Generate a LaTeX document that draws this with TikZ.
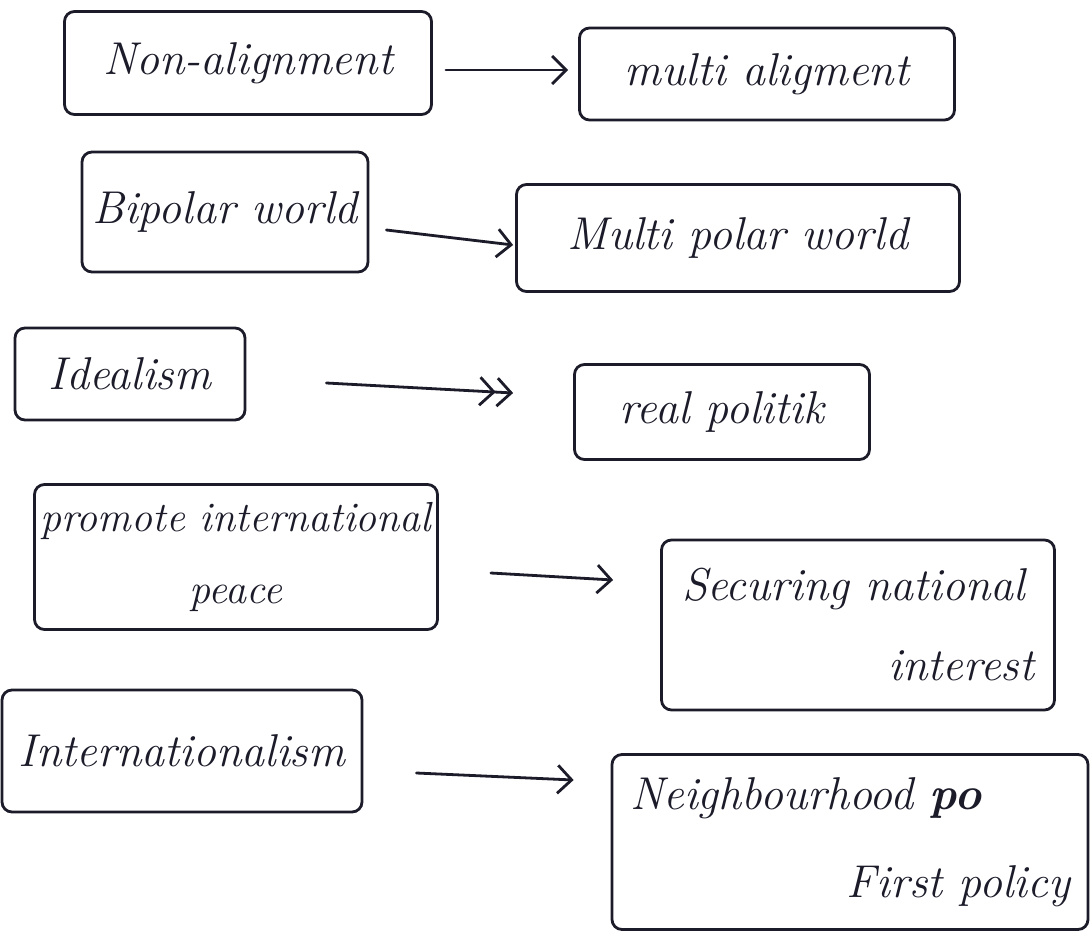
\documentclass[tikz,border=0pt]{standalone}
\usetikzlibrary{arrows.meta}
\definecolor{ink}{HTML}{1B1B2A}
\begin{document}
\begin{tikzpicture}[x=0.5pt,y=-0.5pt,
  box/.style={draw=ink, line width=1.4pt, rounded corners=5pt, inner sep=0pt,
    text=ink, font=\fontsize{23}{30}\selectfont\itshape, align=center},
  arr/.style={draw=ink, line width=1.4pt, line cap=round,
    -{Straight Barb[length=7pt,width=14pt,line width=1.4pt]}},
  darr/.style={draw=ink, line width=1.4pt, line cap=round,
    -{Straight Barb[length=7pt,width=14pt,line width=1.4pt]Straight Barb[length=7pt,width=14pt,line width=1.4pt]}}]
\useasboundingbox[fill=white] (0,0) rectangle (1090,941);

% left column: old approach
\node[box, minimum width=183.5pt, minimum height=51.5pt] (b1) at (248,63) {Non-alignment};
\node[box, minimum width=143pt, minimum height=60pt] (b3) at (225,212) {Bipolar world};
\node[box, minimum width=115pt, minimum height=46pt] (b5) at (130,374) {Idealism};
\node[box, minimum width=201.5pt, minimum height=72.5pt, font=\fontsize{21}{28}\selectfont\itshape] (b7) at (236,557) {promote international\\[8pt] peace};
\node[box, minimum width=180pt, minimum height=61pt] (b9) at (182,751) {Internationalism};

% right column: new approach
\node[box, minimum width=187.5pt, minimum height=46pt] (b2) at (767,74) {multi aligment};
\node[box, minimum width=221.5pt, minimum height=53.5pt] (b4) at (738,238) {Multi polar world};
\node[box, minimum width=147.5pt, minimum height=47.5pt] (b6) at (722,412) {real politik};
\node[box, minimum width=196.5pt, minimum height=85pt] (b8) at (858,625)
  {\parbox{176pt}{\mbox{Securing national}\\[10pt]\mbox{}\hfill\mbox{interest}}};
\node[box, minimum width=238pt, minimum height=87.5pt] (b10) at (850,842)
  {\parbox{220pt}{\mbox{Neighbourhood \textbf{po}}\\[14pt]\mbox{}\hfill\mbox{First policy}}};

% transitions
\draw[arr] ([xshift=6.5pt,yshift=-3.5pt]b1.east) -- ([xshift=-5pt,yshift=2pt]b2.west);
\draw[arr] ([xshift=8.5pt,yshift=-9pt]b3.east) -- ([xshift=-1pt,yshift=-3.5pt]b4.west);
\draw[darr] ([xshift=40pt,yshift=-4.5pt]b5.east) -- ([xshift=-30pt,yshift=9.5pt]b6.west);
\draw[arr] ([xshift=26pt,yshift=-8pt]b7.east) -- ([xshift=-23.5pt,yshift=22.5pt]b8.west);
\draw[arr] ([xshift=26.5pt,yshift=-11pt]b9.east) -- ([xshift=-18.5pt,yshift=31pt]b10.west);
\end{tikzpicture}
\end{document}
